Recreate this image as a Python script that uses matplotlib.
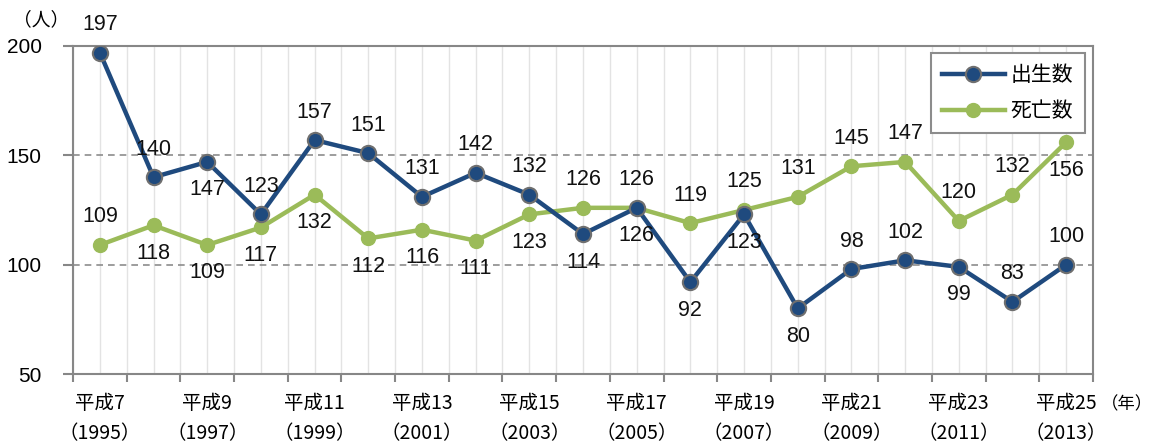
import matplotlib
matplotlib.use("Agg")
import matplotlib.pyplot as plt

plt.rcParams['font.family'] = ['Noto Sans CJK JP', 'DejaVu Sans']

years = list(range(1995, 2014))
heisei = [y - 1988 for y in years]
births = [197, 140, 147, 123, 157, 151, 131, 142, 132, 114, 126, 92, 123, 80, 98, 102, 99, 83, 100]
deaths = [109, 118, 109, 117, 132, 112, 116, 111, 123, 126, 126, 119, 125, 131, 145, 147, 120, 132, 156]
series_names = ['出生数', '死亡数']
# label placement: +1 above, -1 below
births_pos = [1, 1, -1, 1, 1, 1, 1, 1, 1, -1, 1, -1, -1, -1, 1, 1, -1, 1, 1]
deaths_pos = [1, -1, -1, -1, -1, -1, -1, -1, -1, 1, -1, 1, 1, 1, 1, 1, 1, 1, -1]

BLUE = '#1f4a7e'
GREEN = '#9bbb59'
GRAY = '#878787'
NUMFONT = ['Liberation Sans', 'DejaVu Sans']

fig = plt.figure(figsize=(11.51, 4.46), dpi=100)
ax = fig.add_axes([73/1151, 1-374/446, (1093-73)/1151, (374-46)/446])

n = len(years)
x = list(range(n))
ax.set_xlim(-0.5, n - 0.5)
ax.set_ylim(50, 200)

# light vertical grid
for k in range(2 * n + 1):
    ax.axvline(-0.5 + k * 0.5, color='#e3e3e3', lw=1.0, zorder=0)
for yv in [100, 150]:
    ax.axhline(yv, color='#8c8c8c', lw=1.2, ls=(0, (4, 3)), zorder=1)

ax.plot(x, deaths, color=GREEN, lw=3.2, marker='o', ms=10, mfc=GREEN, mec=GREEN,
        mew=1.0, label=series_names[1], zorder=3)
ax.plot(x, births, color=BLUE, lw=3.2, marker='o', ms=11, mfc=BLUE, mec='#6f6f6f',
        mew=1.5, label=series_names[0], zorder=4)

def annotate(vals, pos):
    for i, (v, p) in enumerate(zip(vals, pos)):
        ax.annotate(str(v), (i, v), xytext=(0, 28 * p), textcoords='offset pixels',
                    ha='center', va='center', fontsize=15.5, color='#111111',
                    family=NUMFONT, zorder=6)

annotate(births, births_pos)
annotate(deaths, deaths_pos)

# y axis
ax.set_yticks([50, 100, 150, 200])
ax.set_yticklabels(['50', '100', '150', '200'], family=NUMFONT)
ax.tick_params(axis='y', length=7, width=1.5, color=GRAY, labelsize=15, pad=15.5, direction='out')

# x axis: tick marks at boundaries, labels at even category centres
ax.set_xticks([-0.5 + k for k in range(n + 1)])
ax.set_xticklabels([])
ax.tick_params(axis='x', which='major', length=6, width=1.5, color=GRAY, direction='out')
lab_idx = [i for i in range(n) if i % 2 == 0]
ax.set_xticks(lab_idx, minor=True)
ax.set_xticklabels([f'平成{heisei[i]}' for i in lab_idx], minor=True)
ax.tick_params(axis='x', which='minor', length=0, labelsize=14, pad=13.5)
xt = ax.get_xaxis_transform()
for i in lab_idx:
    ax.text(i, (374 - 434) / 328, f'（{years[i]}）', transform=xt, ha='center', va='center',
            fontsize=14, clip_on=False)

for s in ax.spines.values():
    s.set_color(GRAY)
    s.set_linewidth(1.5)

fig.text(13/1151, 1-20/446, '（人）', fontsize=13.5, ha='left', va='center')
fig.text(1101/1151, 1-404/446, '（年）', fontsize=12.5, ha='left', va='center')

h, l = ax.get_legend_handles_labels()
leg = ax.legend([h[1], h[0]], [l[1], l[0]], loc='upper right', bbox_to_anchor=(0.992, 0.979),
                borderaxespad=0, fontsize=15, frameon=True, fancybox=False, framealpha=1,
                handlelength=3.0, labelspacing=0.65, borderpad=0.55, handletextpad=0.3)
leg.get_frame().set_edgecolor('#8c8c8c')
leg.get_frame().set_linewidth(1.5)
leg.set_zorder(10)

fig.savefig('out.png', dpi=100)
